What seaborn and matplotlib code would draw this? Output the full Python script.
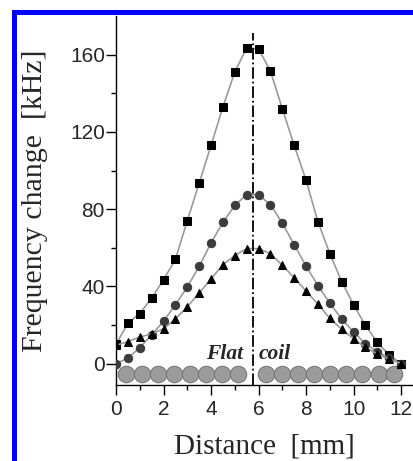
import numpy as np
import pandas as pd
import matplotlib
matplotlib.use("Agg")
import matplotlib.pyplot as plt
from matplotlib.patches import Rectangle
import seaborn as sns

# ---- data ----
distance = [0, 0.5, 1, 1.5, 2, 2.5, 3, 3.5, 4, 4.5, 5, 5.5, 6,
            6.5, 7, 7.5, 8, 8.5, 9, 9.5, 10, 10.5, 11, 11.5, 12]
squares = [10, 21, 26, 34, 43.5, 54, 74, 93.5, 113, 133, 151, 163.5, 163,
           151.5, 132, 113, 95, 73.5, 57, 42.5, 30.5, 19.8, 11, 4.5, 0]
circles = [0, 3, 8.3, 15, 22, 30.6, 39.7, 50.4, 62.5, 73.2, 82, 87.5, 87.5,
           82.3, 72.8, 61.6, 50.6, 40.4, 31.4, 23.1, 16.5, 10.3, 6.2, 3, 0]
triangles = [9.5, 11.5, 13.8, 15.5, 18.1, 23.1, 29.5, 36.6, 43.9, 51.3, 56, 59.6, 59.6,
             57, 51, 44.5, 37.6, 30.8, 23.5, 17.8, 12.8, 8.5, 5, 2.5, 0]
coil_x = [0.4, 1.08, 1.75, 2.43, 3.1, 3.78, 4.45, 5.12,
          6.32, 7.0, 7.67, 8.35, 9.02, 9.7, 10.37, 11.05, 11.72]
coil_y = [-5.3] * len(coil_x)
coil_center = 5.75
center_line_top = 171
x_ticks = [0, 2, 4, 6, 8, 10, 12]
y_ticks = [0, 40, 80, 120, 160]

sns.set_style("ticks")
plt.rcParams['font.family'] = ['Liberation Sans', 'DejaVu Sans']

fig = plt.figure(figsize=(4.13, 4.61), dpi=100)
ax = fig.add_axes([116/413, 1 - 385/461, 1 - 116/413, (385 - 16)/461])

line_color = '#9a9a9a'
df = pd.DataFrame({'d': distance, 's': squares, 'c': circles, 't': triangles})
sns.lineplot(data=df, x='d', y='s', ax=ax, color=line_color, lw=1.2, marker='s',
             markersize=5.2, markerfacecolor='black', markeredgecolor='black', zorder=3)
sns.lineplot(data=df, x='d', y='c', ax=ax, color=line_color, lw=1.2, marker='o',
             markersize=6, markerfacecolor='#3c3c3c', markeredgecolor='#3c3c3c', zorder=3)
sns.lineplot(data=df, x='d', y='t', ax=ax, color=line_color, lw=1.2, marker='^',
             markersize=6, markerfacecolor='black', markeredgecolor='black', zorder=3)

sns.scatterplot(x=coil_x, y=coil_y, ax=ax, s=140, color='#9b9b9b',
                edgecolor='#777777', linewidth=0.8, zorder=2)

ax.vlines(coil_center, -11, center_line_top, colors='black', linestyles='-.', lw=1.3, zorder=4)

ax.text(5.35, 5, 'Flat', ha='right', va='center', fontsize=15.5,
        fontweight='bold', fontstyle='italic', family=['Liberation Serif'])
ax.text(6.0, 5, 'coil', ha='left', va='center', fontsize=15.5,
        fontweight='bold', fontstyle='italic', family=['Liberation Serif'])

ax.set_xlim(0, 12.5)
ax.set_ylim(-11, 180)
ax.set_xticks(x_ticks)
ax.set_yticks(y_ticks)
ax.set_xticks([1, 3, 5, 7, 9, 11], minor=True)
ax.set_yticks([20, 60, 100, 140], minor=True)
ax.tick_params(axis='both', which='major', labelsize=15, length=7, width=1, direction='out', color='black')
ax.tick_params(axis='both', which='minor', length=3.5, width=1, direction='out', color='black')
ax.tick_params(axis='y', pad=1)
ax.tick_params(axis='x', pad=4)

ax.set_xlabel('Distance  [mm]', fontsize=21, family=['Liberation Serif'], labelpad=10)
ax.set_ylabel('Frequency change  [kHz]', fontsize=21.5, family=['Liberation Serif'], labelpad=16)

for side in ['top', 'right']:
    ax.spines[side].set_visible(False)
for side in ['left', 'bottom']:
    ax.spines[side].set_linewidth(1.0)
    ax.spines[side].set_color('black')

fig.patches.append(Rectangle((14/413, -0.2), 1.5, 1 - 12/461 + 0.2, transform=fig.transFigure,
                             fill=False, edgecolor='#0000ff', lw=3.6, clip_on=False))

fig.savefig('out.png', dpi=100)
